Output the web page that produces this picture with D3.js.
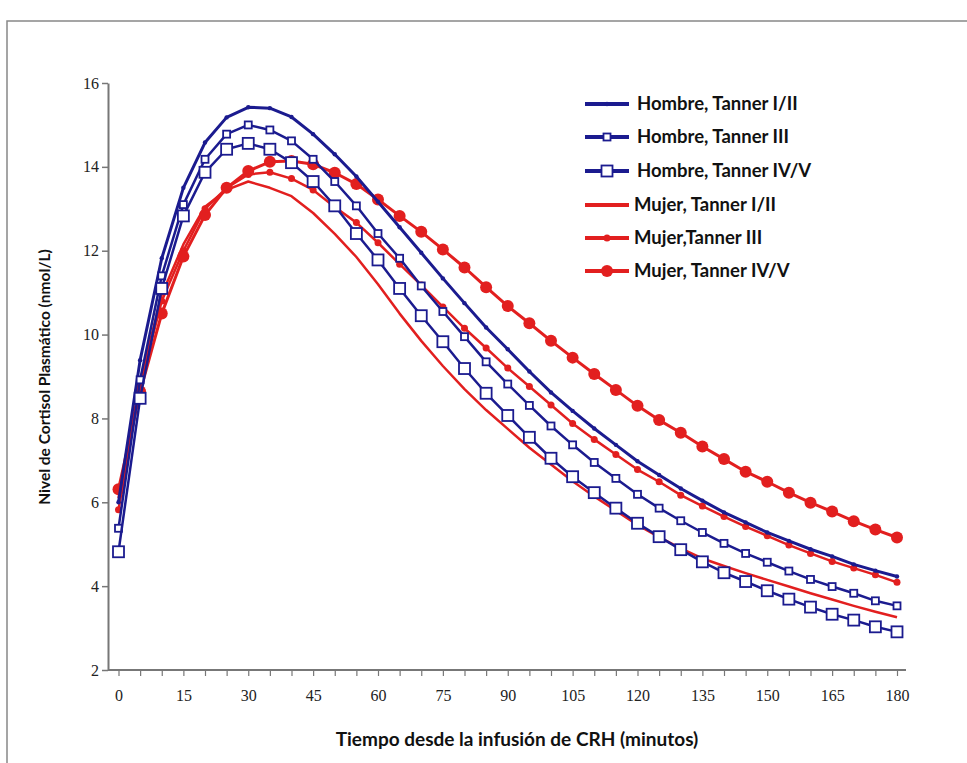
<!DOCTYPE html>
<html><head><meta charset="utf-8">
<script src="https://cdn.jsdelivr.net/npm/d3@7"></script>
<style>body{margin:0;background:#fff}svg{display:block}</style>
</head><body>
<script>
const minutes = d3.range(0, 181, 5);
const hombreI_II = [6.0,9.39,11.82,13.5,14.58,15.18,15.42,15.4,15.19,14.78,14.3,13.77,13.17,12.56,11.95,11.34,10.75,10.17,9.65,9.12,8.62,8.18,7.76,7.37,6.98,6.65,6.33,6.04,5.76,5.52,5.28,5.08,4.88,4.71,4.52,4.37,4.23];
const hombreIII = [5.38,8.92,11.4,13.1,14.18,14.78,15.0,14.88,14.62,14.18,13.65,13.07,12.41,11.82,11.16,10.55,9.95,9.35,8.82,8.31,7.82,7.37,6.95,6.57,6.19,5.86,5.56,5.28,5.02,4.78,4.57,4.36,4.16,3.99,3.83,3.65,3.53];
const hombreIV_V = [4.82,8.48,11.1,12.83,13.87,14.42,14.56,14.42,14.1,13.65,13.07,12.41,11.78,11.1,10.45,9.83,9.19,8.6,8.07,7.55,7.05,6.61,6.23,5.86,5.5,5.18,4.87,4.58,4.32,4.11,3.89,3.69,3.5,3.33,3.19,3.03,2.91];
const mujerI_II = [6.1,8.9,10.95,12.15,13.05,13.45,13.65,13.5,13.3,12.9,12.4,11.85,11.2,10.5,9.85,9.25,8.7,8.2,7.75,7.3,6.9,6.5,6.14,5.8,5.46,5.17,4.9,4.66,4.48,4.31,4.15,3.99,3.83,3.68,3.53,3.39,3.26];
const mujerIII = [5.82,8.8,10.8,12.0,13.0,13.5,13.82,13.87,13.72,13.45,13.04,12.67,12.19,11.68,11.18,10.66,10.15,9.68,9.2,8.76,8.32,7.88,7.5,7.14,6.78,6.49,6.17,5.91,5.66,5.42,5.2,4.98,4.78,4.59,4.43,4.27,4.09];
const mujerIV_V = [6.31,8.64,10.5,11.86,12.85,13.5,13.9,14.12,14.14,14.06,13.86,13.59,13.22,12.83,12.45,12.03,11.6,11.13,10.68,10.27,9.85,9.45,9.06,8.68,8.3,7.96,7.66,7.33,7.03,6.73,6.49,6.23,5.99,5.78,5.55,5.35,5.16];
const seriesNames = ["Hombre, Tanner I/II","Hombre, Tanner III","Hombre, Tanner IV/V","Mujer, Tanner I/II","Mujer,Tanner III","Mujer, Tanner IV/V"];
const yTicks = [2,4,6,8,10,12,14,16];
const xTicks = d3.range(0, 181, 15);
const xMinorTicks = d3.range(0, 181, 5);
const yTitle = "Nivel de Cortisol Plasmático (nmol/L)";
const xTitle = "Tiempo desde la infusión de CRH (minutos)";

const BLUE = "#1b1b8f", RED = "#e21f1f";
const styles = [
  {color:BLUE, width:3, marker:"dot", size:2.2},
  {color:BLUE, width:2.5, marker:"square", size:7},
  {color:BLUE, width:2.5, marker:"square", size:11},
  {color:RED, width:2.5, marker:"none", size:0},
  {color:RED, width:2.5, marker:"circle", size:3.5},
  {color:RED, width:3, marker:"circle", size:6}
];
const allSeries = [hombreI_II, hombreIII, hombreIV_V, mujerI_II, mujerIII, mujerIV_V];

const W = 967, H = 763;
const svg = d3.select("body").append("svg").attr("width", W).attr("height", H);
svg.append("rect").attr("width", W).attr("height", H).attr("fill", "#fff");
// frame
svg.append("path").attr("d", `M7,${H} V21 H${W}`).attr("fill","none").attr("stroke","#888").attr("stroke-width",1.5);

const x = d3.scaleLinear().domain([0,180]).range([118.5, 897]);
const y = d3.scaleLinear().domain([2,16]).range([670, 83]);
const x0 = 108, xEnd = 906;

// y axis
const yAxis = d3.axisLeft(y).tickValues(yTicks).tickSize(6).tickSizeOuter(0);
const gy = svg.append("g").attr("transform", `translate(${x0},0)`).call(yAxis);
gy.select(".domain").attr("stroke","#777").attr("stroke-width",2);
gy.selectAll(".tick line").attr("stroke","#777").attr("stroke-width",1.5);
gy.selectAll(".tick text").attr("font-family","'Liberation Serif', serif").attr("font-size",16).attr("fill","#222").attr("x",-9);

// x axis
svg.append("line").attr("x1",x0).attr("x2",xEnd).attr("y1",670).attr("y2",670).attr("stroke","#777").attr("stroke-width",2);
const xAxis = d3.axisBottom(x).tickValues(xMinorTicks).tickSize(6).tickFormat(d => xTicks.includes(d) ? d : "");
const gx = svg.append("g").attr("transform", `translate(0,670)`).call(xAxis);
gx.select(".domain").remove();
gx.selectAll(".tick line").attr("stroke","#777").attr("stroke-width",1.2);
gx.selectAll(".tick text").attr("font-family","'Liberation Serif', serif").attr("font-size",16).attr("fill","#222").attr("dy","1.35em");

// axis titles
svg.append("text").attr("x", 517).attr("y", 746).attr("text-anchor","middle")
  .attr("font-family","Lato, sans-serif").attr("font-weight","bold").attr("font-size",19).attr("fill","#111").text(xTitle);
svg.append("text").attr("transform","translate(50,377) rotate(-90)").attr("text-anchor","middle")
  .attr("font-family","Lato, sans-serif").attr("font-weight","bold").attr("font-size",15.5).attr("fill","#111").text(yTitle);

const line = d3.line().x((d,i)=>x(minutes[i])).y(d=>y(d));

function drawMarker(g, st, cx, cy) {
  if (st.marker === "dot") {
    g.append("circle").attr("cx",cx).attr("cy",cy).attr("r",st.size).attr("fill",st.color);
  } else if (st.marker === "square") {
    g.append("rect").attr("x",cx-st.size/2).attr("y",cy-st.size/2).attr("width",st.size).attr("height",st.size)
      .attr("fill","#fff").attr("stroke",st.color).attr("stroke-width",1.8);
  } else if (st.marker === "circle") {
    g.append("circle").attr("cx",cx).attr("cy",cy).attr("r",st.size).attr("fill",st.color);
  }
}

const order = [3,4,5,0,1,2];
order.forEach(k => {
  const st = styles[k], data = allSeries[k];
  const g = svg.append("g");
  g.append("path").attr("d", line(data)).attr("fill","none").attr("stroke",st.color).attr("stroke-width",st.width).attr("stroke-linejoin","round");
  data.forEach((v,i) => drawMarker(g, st, x(minutes[i]), y(v)));
});

// legend
const legY = [104,137,171,205,238,271];
seriesNames.forEach((name,k) => {
  const st = styles[k], g = svg.append("g");
  g.append("line").attr("x1",585).attr("x2",629).attr("y1",legY[k]).attr("y2",legY[k]).attr("stroke",st.color).attr("stroke-width",4);
  drawMarker(g, st, 607, legY[k]);
  g.append("text").attr("x", k>=3 ? 634 : 637).attr("y", legY[k]).attr("dy","0.35em")
    .attr("font-family","Lato, sans-serif").attr("font-weight","bold").attr("font-size",18.5).attr("fill","#111").text(name);
});
</script>
</body></html>
